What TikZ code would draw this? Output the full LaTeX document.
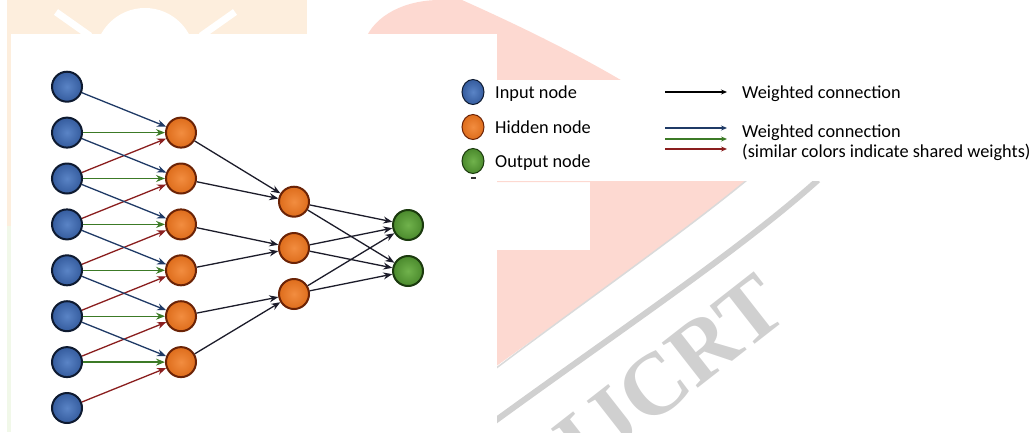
\documentclass[tikz,border=0pt]{standalone}
\usepackage{fontspec}
\setmainfont{Carlito}
\newfontfamily\wmfont{Liberation Serif}
\usetikzlibrary{arrows.meta,shapes.geometric}
\definecolor{wmpink}{HTML}{FDD9D1}
\definecolor{wmpeach}{HTML}{FDEEDD}
\definecolor{wmgreen}{HTML}{F1F8E9}
\definecolor{wmgray}{HTML}{D0D0D0}
\definecolor{inpL}{HTML}{5A84C6}
\definecolor{inpD}{HTML}{355C9E}
\definecolor{inpB}{HTML}{0E1A30}
\definecolor{hidL}{HTML}{F28D40}
\definecolor{hidD}{HTML}{DE6D1C}
\definecolor{hidB}{HTML}{6B2306}
\definecolor{outL}{HTML}{70B24C}
\definecolor{outD}{HTML}{4B8A2D}
\definecolor{outB}{HTML}{1B3A0E}
\definecolor{cblack}{HTML}{1C1C2A}
\definecolor{cblue}{HTML}{1F3A66}
\definecolor{cgreen}{HTML}{3C7A26}
\definecolor{cred}{HTML}{8A1E1E}
\tikzset{
  neuron/.style={circle, minimum size=30pt, inner sep=0pt, line width=2pt},
  inp/.style={neuron, draw=inpB, inner color=inpL, outer color=inpD},
  hid/.style={neuron, draw=hidB, inner color=hidL, outer color=hidD},
  outn/.style={neuron, draw=outB, inner color=outL, outer color=outD},
  legball/.style={ellipse, minimum width=22pt, minimum height=25pt, inner sep=0pt, line width=1pt},
  conn/.style={line width=1.3pt, -{Stealth[length=9pt,width=7pt]}},
  legarrow/.style={line width=1.3pt, -{Stealth[length=6pt,width=5pt]}},
  legtext/.style={anchor=base west, inner sep=0pt, font=\fontsize{18.3}{20}\selectfont}
}
\begin{document}
\begin{tikzpicture}[x=1pt,y=-1pt]
\useasboundingbox (0,0) rectangle (1031,432);
% --- watermark background ---
\fill[wmpeach] (7,0) rectangle (307,34);
\fill[white] (145,58) circle[radius=50];
\draw[white, line width=7pt] (56,12) -- (90,36);
\draw[white, line width=7pt] (235,12) -- (201,36);
\fill[wmpeach] (7,34) rectangle (11,226);
\fill[wmgreen] (7,226) rectangle (11,432);
\fill[wmpink] (365,40) .. controls (375,15) and (405,0) .. (440,0) -- (462,0)
  .. controls (540,35) and (700,110) .. (745,182)
  .. controls (660,250) and (560,320) .. (495,367)
  -- (495,250) -- (590,250) -- (590,182) -- (497,182) -- (497,34) -- (365,34) -- cycle;
\draw[wmgray!80, line width=1.5pt] (495,369) .. controls (580,305) and (680,235) .. (747,180);
\draw[wmgray, line width=6pt] (495,421) .. controls (620,330) and (740,250) .. (818,180);
\node[rotate=38, text=wmgray, inner sep=0pt, font=\wmfont\bfseries\fontsize{88}{88}\selectfont] (wm) at (670,374) {IJCRT};
\fill[white] (11,34) rectangle (497,432);
\fill[white] (497,80) rectangle (1031,181);
% --- network ---
\foreach \i/\y in {1/86.7,2/132.6,3/178.5,4/224.4,5/270.3,6/316.2,7/362.1,8/408}
  \node[inp] (i\i) at (67,\y) {};
\foreach \j/\y in {1/132.6,2/178.5,3/224.4,4/270.3,5/316.2,6/362.1}
  \node[hid] (h\j) at (181,\y) {};
\foreach \k/\y in {1/201.7,2/248,3/294}
  \node[hid] (m\k) at (294,\y) {};
\foreach \k/\y in {1/225,2/271}
  \node[outn] (o\k) at (408,\y) {};
\foreach \j in {1,...,6} {
  \pgfmathtruncatemacro\a{\j+1}
  \pgfmathtruncatemacro\b{\j+2}
  \draw[conn, cblue] (i\j) -- (h\j);
  \draw[conn, cred] (i\b) -- (h\j);
  \draw[conn, cgreen] (i\a) -- (h\j);
}
\foreach \s/\t in {1/1,2/1,3/2,4/2,5/3,6/3}
  \draw[conn, cblack] (h\s) -- (m\t);
\foreach \s in {1,2,3}
  \foreach \t in {1,2}
    \draw[conn, cblack] (m\s) -- (o\t);
% --- legend ---
\node[legball, draw=inpB, inner color=inpL, outer color=inpD] (lb1) at (473,92) {};
\node[legball, draw=hidB, inner color=hidL, outer color=hidD] (lb2) at (473,127) {};
\node[legball, draw=outB, inner color=outL, outer color=outD] (lb3) at (473,161) {};
\draw[line width=1.3pt, black!80] (471,178) -- (476,178);
\node[legtext] (lt1) at (495,98) {Input node};
\node[legtext] (lt2) at (495,133) {Hidden node};
\node[legtext] (lt3) at (495,167) {Output node};
\coordinate (ka1) at (665,92);  \coordinate (kb1) at (727,92);
\coordinate (ka2) at (665,128); \coordinate (kb2) at (727,128);
\coordinate (ka3) at (665,139); \coordinate (kb3) at (727,139);
\coordinate (ka4) at (665,149); \coordinate (kb4) at (727,149);
\draw[legarrow, black] (ka1) -- (kb1);
\draw[legarrow, cblue] (ka2) -- (kb2);
\draw[legarrow, cgreen] (ka3) -- (kb3);
\draw[legarrow, cred] (ka4) -- (kb4);
\node[legtext] (wt1) at (742,98) {Weighted connection};
\node[legtext] (wt2) at (742,137) {Weighted connection};
\node[legtext] (wt3) at (742,157) {(similar colors indicate shared weights)};
\end{tikzpicture}
\end{document}
